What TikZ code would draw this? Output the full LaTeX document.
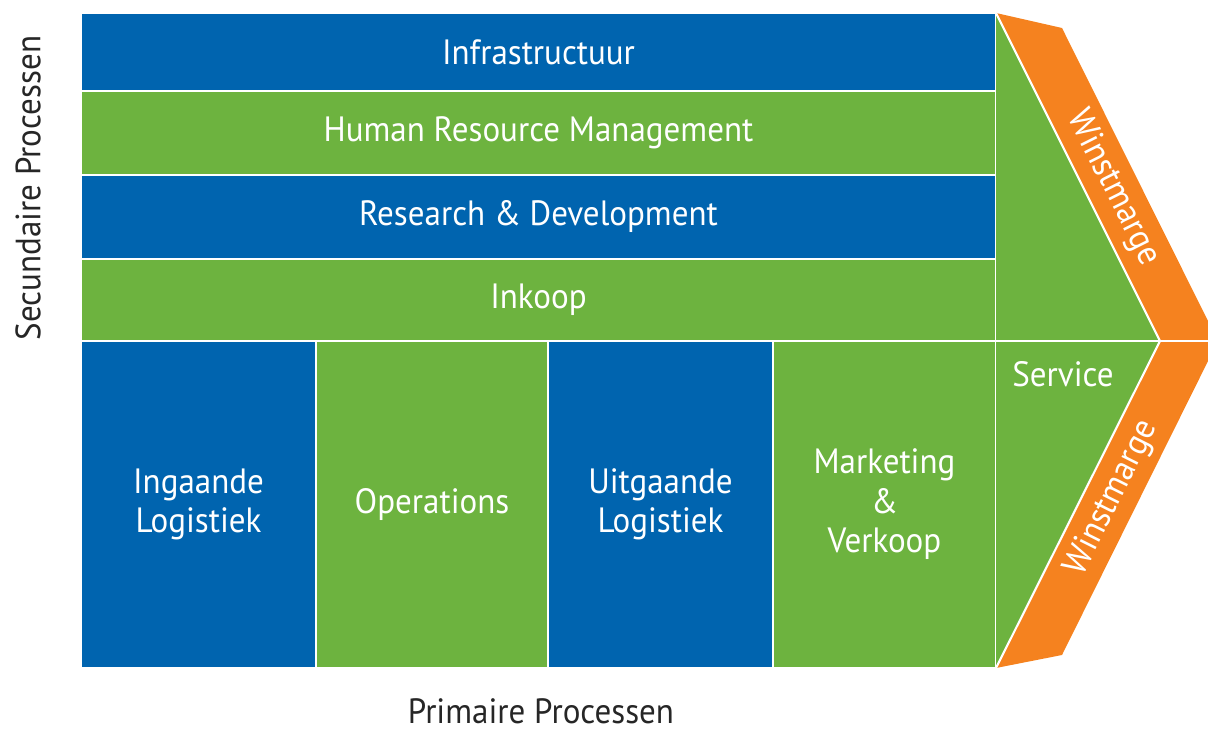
\documentclass[tikz,border=0pt]{standalone}
\usepackage{fontspec}
\setmainfont[FakeStretch=0.94]{PT Sans}
\definecolor{vcblue}{HTML}{0064AF}
\definecolor{vcgreen}{HTML}{6DB33F}
\definecolor{vcorange}{HTML}{F5821F}
\begin{document}
\begin{tikzpicture}[x=0.02cm, y=-0.02cm,
    blok/.style={draw=white, line width=1.2pt, text=white, inner sep=0pt,
      align=center, font=\fontsize{20}{22.5}\selectfont},
    rij/.style={blok, minimum width=18.3cm},
    kolom/.style={blok, minimum height=6.54cm},
    pijltekst/.style={text=white, font=\fontsize{20}{22.5}\selectfont},
    label/.style={text=black!85, font=\fontsize{20}{22.5}\selectfont}]

    \useasboundingbox (0, 0) rectangle (1208, 729);

    % secundaire processen
    \node[rij, fill=vcblue, minimum height=1.56cm] (infra) at (538.5, 52) {Infrastructuur};
    \node[rij, fill=vcgreen, minimum height=1.68cm] (hrm) at (538.5, 133) {Human Resource Management};
    \node[rij, fill=vcblue, minimum height=1.68cm] (rnd) at (538.5, 217) {Research \& Development};
    \node[rij, fill=vcgreen, minimum height=1.64cm] (inkoop) at (538.5, 300) {Inkoop};

    % primaire processen
    \node[kolom, fill=vcblue, minimum width=4.7cm] (inlog) at (198.5, 504.5) {Ingaande\\Logistiek};
    \node[kolom, fill=vcgreen, minimum width=4.64cm] (ops) at (432, 504.5) {Operations};
    \node[kolom, fill=vcblue, minimum width=4.5cm] (uitlog) at (660.5, 504.5) {Uitgaande\\Logistiek};
    \node[kolom, fill=vcgreen, minimum width=4.46cm] (mkt) at (884.5, 504.5) {Marketing\\\&\\Verkoop};

    % pijlpunt met winstmarge
    \fill[vcgreen] (996, 13) -- (1160, 341) -- (996, 668) -- cycle;
    \fill[vcorange] (996, 13) -- (1062, 28) -- (1218, 341) -- (1062, 655)
      -- (996, 668) -- (1160, 341) -- cycle;
    \path[draw=white, line width=1.2pt] (996, 13) -- (1160, 341) -- (996, 668);
    \path[draw=white, line width=1.2pt] (996, 341) -- (1218, 341);

    \node[pijltekst] (service) at (1063, 374) {Service};
    \node[pijltekst, rotate=-63.4] (winstboven) at (1113, 188) {Winstmarge};
    \node[pijltekst, rotate=63.4] (winstonder) at (1112, 498) {Winstmarge};

    \node[label, rotate=90] (secundair) at (28, 188) {Secundaire Processen};
    \node[label] (primair) at (541, 711) {Primaire Processen};

\end{tikzpicture}
\end{document}
